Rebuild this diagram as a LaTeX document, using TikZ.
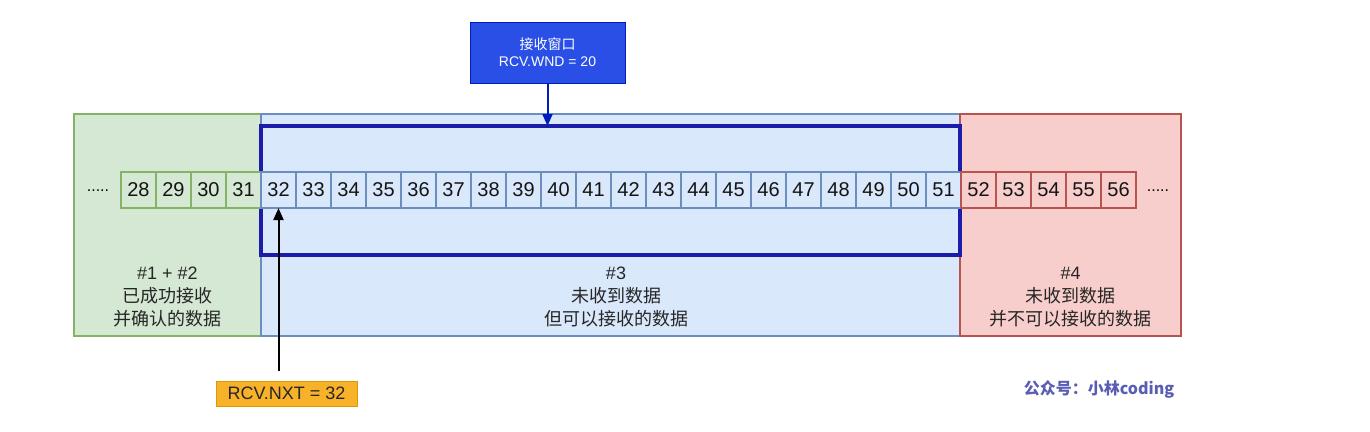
\documentclass[tikz,border=0pt]{standalone}
\usepackage{fontspec}
\setmainfont{Liberation Sans}
\newfontfamily\cjk{Noto Sans CJK SC}
\usetikzlibrary{arrows.meta}
\definecolor{gfill}{HTML}{D5E8D4}\definecolor{gline}{HTML}{82B366}
\definecolor{bfill}{HTML}{DAE8FC}\definecolor{bline}{HTML}{6C8EBF}
\definecolor{rfill}{HTML}{F8CECC}\definecolor{rline}{HTML}{B85450}
\definecolor{winline}{HTML}{1C1CAA}
\definecolor{topfill}{HTML}{2A4FE6}\definecolor{topline}{HTML}{001DBC}
\definecolor{ofill}{HTML}{F8B22A}\definecolor{oline}{HTML}{D79B00}
\definecolor{wm}{HTML}{5A5DB4}
\tikzset{
  region/.style={draw, line width=1.5pt, anchor=north west, inner sep=0pt, outer sep=0pt},
  cell/.style={draw, line width=1.5pt, minimum width=35pt, minimum height=36pt, inner sep=0pt, outer sep=0pt, font=\fontsize{20}{20}\selectfont, text=black!92},
  gcell/.style={cell, fill=gfill, draw=gline},
  bcell/.style={cell, fill=bfill, draw=bline},
  rcell/.style={cell, fill=rfill, draw=rline},
  lbl/.style={align=center, font=\fontsize{18}{23}\selectfont, text=black!85},
  dots/.style={font=\fontsize{16}{16}\selectfont, anchor=base},
}
\begin{document}
\begin{tikzpicture}[x=1pt,y=-1pt]
\useasboundingbox (0,0) rectangle (1370,431);
% regions
\node[region, fill=gfill, draw=gline, minimum width=187pt, minimum height=222pt] (green) at (74,114) {};
\node[region, fill=bfill, draw=bline, minimum width=699pt, minimum height=222pt] (blue) at (261,114) {};
\node[region, fill=rfill, draw=rline, minimum width=221pt, minimum height=222pt] (red) at (960,114) {};
% receive window
\node[region, draw=winline, line width=4pt, minimum width=699pt, minimum height=129pt] (win) at (261,126) {};
% cells
\foreach \n in {28,...,31} {\node[gcell] (c\n) at ({121+35*(\n-28)+17.5},190) {\n};}
\foreach \n in {32,...,51} {\node[bcell] (c\n) at ({121+35*(\n-28)+17.5},190) {\n};}
\foreach \n in {52,...,56} {\node[rcell] (c\n) at ({121+35*(\n-28)+17.5},190) {\n};}
\node[dots] (ldots) at (98,191) {.....};
\node[dots] (rdots) at (1158,191) {.....};
% labels
\node[lbl] (lg) at (167.5,297) {\#1 + \#2\\{\cjk 已成功接收}\\{\cjk 并确认的数据}};
\node[lbl] (lb) at (616,297) {\#3\\{\cjk 未收到数据}\\{\cjk 但可以接收的数据}};
\node[lbl] (lr) at (1070.5,297) {\#4\\{\cjk 未收到数据}\\{\cjk 并不可以接收的数据}};
% top box
\node[draw=topline, fill=topfill, line width=1pt, minimum width=155pt, minimum height=61pt, align=center, text=white, font=\fontsize{14}{17}\selectfont] (wnd) at (547.5,52.5) {{\cjk 接收窗口}\\RCV.WND = 20};
\draw[topline, line width=2pt, -{Triangle[length=12pt,width=10pt]}] (wnd.south) -- (wnd.south |- win.north);
% RCV.NXT
\node[draw=oline, fill=ofill, line width=1pt, minimum width=141pt, minimum height=25pt, inner sep=0pt, font=\fontsize{18}{18}\selectfont, text=black!85] (nxt) at (286.5,393.5) {RCV.NXT = 32};
\coordinate (nxtstart) at (278.5,371);
\draw[black, line width=2pt, -{Triangle[length=12pt,width=10pt]}] (nxtstart) -- (c32.south);
% watermark
\node[text=wm, font=\fontsize{16}{16}\selectfont\cjk\bfseries] (mark) at (1099,389) {公众号：小林coding};
\end{tikzpicture}
\end{document}
